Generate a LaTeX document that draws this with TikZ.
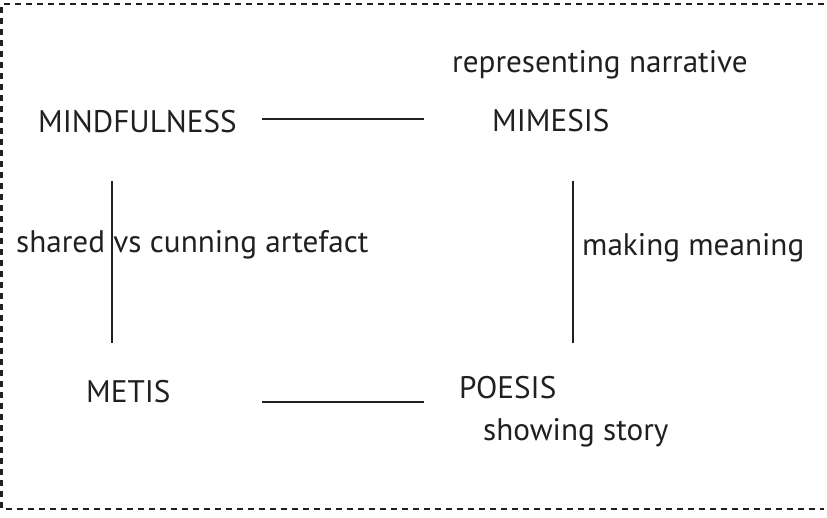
\documentclass[tikz,border=0pt]{standalone}
\usepackage{fontspec}
\setmainfont{PT Sans}
\definecolor{ink}{HTML}{231F20}
\begin{document}
\begin{tikzpicture}[x=1bp,y=-1bp,
  lbl/.style={anchor=base west,inner sep=0pt,text=ink,font=\fontsize{31.3}{37}\selectfont},
  conn/.style={draw=ink,line width=2.2bp},
  frame/.style={draw=ink,line width=2bp,dash pattern=on 6bp off 5bp}]
\useasboundingbox (0,0) rectangle (827,518);
\draw[frame] (824,4.5) -- (1.5,4.5) -- (1.5,509) -- (824,509);
\node[lbl] (rep) at (452,73) {representing narrative};
\node[lbl] (mind) at (38,133) {MINDFULNESS};
\node[lbl] (mim) at (492,132) {MIMESIS};
\node[lbl] (shared) at (16,253) {shared vs cunning artefact};
\node[lbl] (making) at (582,256) {making meaning};
\node[lbl] (metis) at (86,402) {METIS};
\node[lbl] (poesis) at (459,398) {POESIS};
\node[lbl] (story) at (483,440) {showing story};
\coordinate (t1) at (262,119); \coordinate (t2) at (424,119);
\coordinate (l1) at (112,181); \coordinate (l2) at (112,343);
\coordinate (r1) at (573,181); \coordinate (r2) at (573,343);
\coordinate (b1) at (262,402); \coordinate (b2) at (424,402);
\draw[conn] (t1) -- (t2);
\draw[conn] (l1) -- (l2);
\draw[conn] (r1) -- (r2);
\draw[conn] (b1) -- (b2);
\end{tikzpicture}
\end{document}
